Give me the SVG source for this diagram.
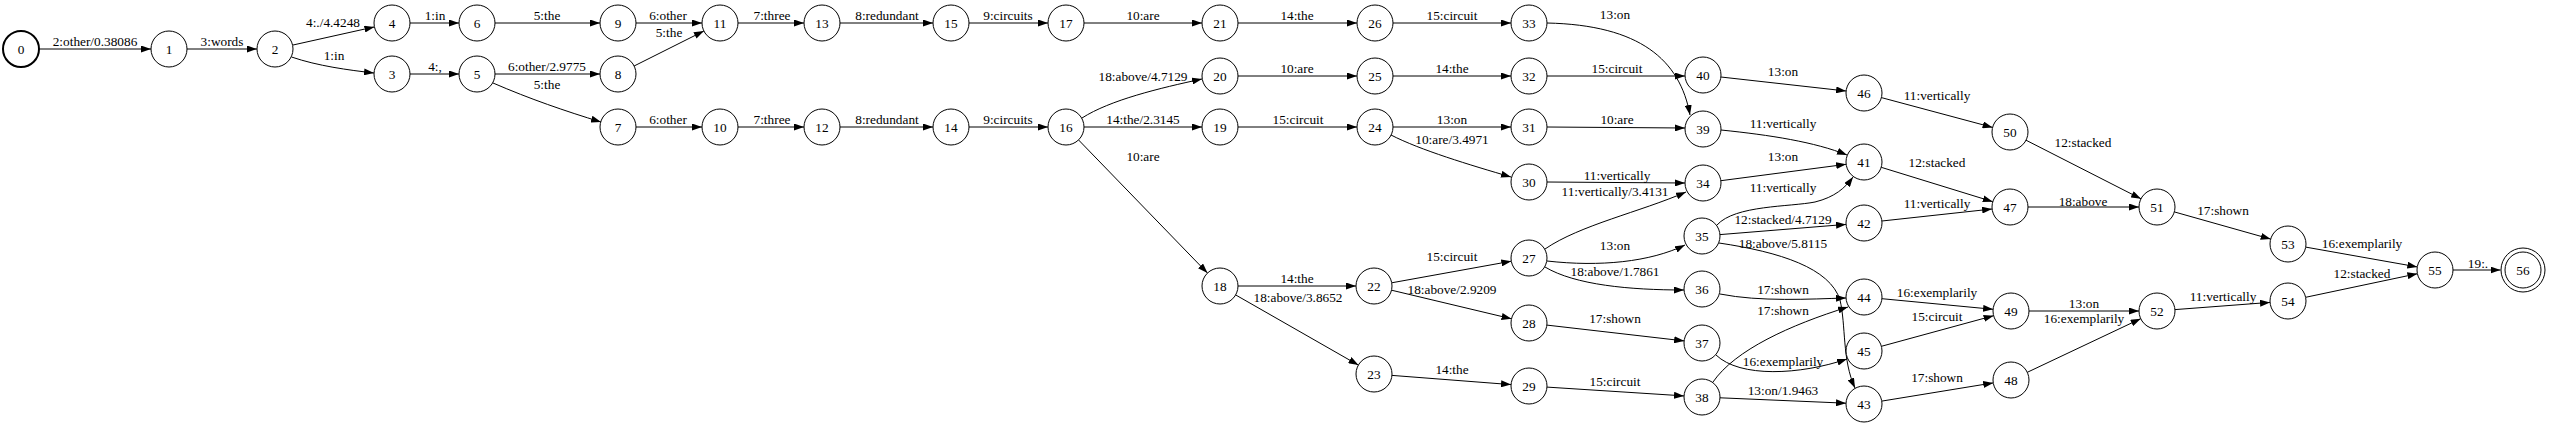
<svg xmlns="http://www.w3.org/2000/svg" width="2550" height="426" viewBox="0 0 2550 426">
<style>
text{font-family:"Liberation Serif","Times New Roman",serif;font-size:13.3px;text-anchor:middle;fill:#000}
.n circle{fill:#fff;stroke:#000;stroke-width:1}
.e path{fill:none;stroke:#000;stroke-width:1;marker-end:url(#a)}
</style>
<defs>
<marker id="a" markerWidth="10" markerHeight="7" refX="10" refY="3.5" orient="auto" markerUnits="userSpaceOnUse"><path d="M0,0 L10,3.5 L0,7 z" fill="#000"/></marker>
</defs>
<rect width="2550" height="426" fill="#fff"/>
<g id="edges" class="e">
<g><path d="M39,49 L151,49"/><text x="95" y="46">2:other/0.38086</text></g>
<g><path d="M187,49 L257,49"/><text x="222" y="46">3:words</text></g>
<g><path d="M292.6,45.1 L374.4,26.9"/><text x="333" y="27">4:./4.4248</text></g>
<g><path d="M291.5,57 C318,66 348,70 374,73"/><text x="334" y="60">1:in</text></g>
<g><path d="M410,23 L459,23"/><text x="435" y="20">1:in</text></g>
<g><path d="M410,74 L459,74"/><text x="435" y="71">4:,</text></g>
<g><path d="M495,23 L600,23"/><text x="547" y="20">5:the</text></g>
<g><path d="M495,74 L600,74"/><text x="547" y="71">6:other/2.9775</text></g>
<g><path d="M493,83 C530,99 565,111 601,122"/><text x="547" y="89">5:the</text></g>
<g><path d="M636,23 L702,23"/><text x="668" y="20">6:other</text></g>
<g><path d="M634.1,66 L703.9,31"/><text x="669" y="37">5:the</text></g>
<g><path d="M636,127 L702,127"/><text x="668" y="124">6:other</text></g>
<g><path d="M738,23 L804,23"/><text x="772" y="20">7:three</text></g>
<g><path d="M738,127 L804,127"/><text x="772" y="124">7:three</text></g>
<g><path d="M840,23 L933,23"/><text x="887" y="20">8:redundant</text></g>
<g><path d="M840,127 L933,127"/><text x="887" y="124">8:redundant</text></g>
<g><path d="M969,23 L1048,23"/><text x="1008" y="20">9:circuits</text></g>
<g><path d="M969,127 L1048,127"/><text x="1008" y="124">9:circuits</text></g>
<g><path d="M1084,23 L1202,23"/><text x="1143" y="20">10:are</text></g>
<g><path d="M1082,118 C1110,100 1160,88 1202,79"/><text x="1143" y="81">18:above/4.7129</text></g>
<g><path d="M1084,127 L1202,127"/><text x="1143" y="124">14:the/2.3145</text></g>
<g><path d="M1078.5,139.9 L1207.5,273.1"/><text x="1143" y="161">10:are</text></g>
<g><path d="M1238,23 L1357,23"/><text x="1297" y="20">14:the</text></g>
<g><path d="M1238,76 L1357,76"/><text x="1297" y="73">10:are</text></g>
<g><path d="M1238,127 L1357,127"/><text x="1298" y="124">15:circuit</text></g>
<g><path d="M1393,23 L1511,23"/><text x="1452" y="20">15:circuit</text></g>
<g><path d="M1393,76 L1511,76"/><text x="1452" y="73">14:the</text></g>
<g><path d="M1393,127 L1511,127"/><text x="1452" y="124">13:on</text></g>
<g><path d="M1391,135 C1420,150 1470,165 1511,177"/><text x="1452" y="144">10:are/3.4971</text></g>
<g><path d="M1547,23 C1640,25 1680,60 1690,115"/><text x="1615" y="19">13:on</text></g>
<g><path d="M1547,76 L1685,76"/><text x="1617" y="73">15:circuit</text></g>
<g><path d="M1547,127 L1685,128"/><text x="1617" y="124">10:are</text></g>
<g><path d="M1547,182 L1685,183"/><text x="1617" y="180">11:vertically</text></g>
<g><path d="M1545,249 C1580,225 1640,212 1686,192"/><text x="1615" y="196">11:vertically/3.4131</text></g>
<g><path d="M1720.9,77 L1846.1,91"/><text x="1783" y="76">13:on</text></g>
<g><path d="M1721,130 C1770,135 1815,142 1847,155"/><text x="1783" y="128">11:vertically</text></g>
<g><path d="M1720.9,180.7 L1846.1,164.3"/><text x="1783" y="161">13:on</text></g>
<g><path d="M1717,225 C1735,205 1790,207 1815,202 C1835,197 1845,188 1853,177"/><text x="1783" y="192">11:vertically</text></g>
<g><path d="M1720,234.6 L1846,224.4"/><text x="1783" y="224">12:stacked/4.7129</text></g>
<g><path d="M1719,243 C1780,252 1830,268 1840,300 C1846,325 1842,360 1855,388"/><text x="1783" y="248">18:above/5.8115</text></g>
<g><path d="M1720,294 C1760,302 1810,299 1846,298"/><text x="1783" y="294">17:shown</text></g>
<g><path d="M1713,382 C1735,350 1790,325 1848,307"/><text x="1783" y="315">17:shown</text></g>
<g><path d="M1716,355 C1740,378 1800,375 1847,359"/><text x="1783" y="366">16:exemplarily</text></g>
<g><path d="M1720,397.8 L1846,403.2"/><text x="1783" y="395">13:on/1.9463</text></g>
<g><path d="M1881.4,97.6 L1992.6,127.4"/><text x="1937" y="100">11:vertically</text></g>
<g><path d="M1881.2,167.3 L1992.8,201.7"/><text x="1937" y="167">12:stacked</text></g>
<g><path d="M1881.9,221 L1992.1,209"/><text x="1937" y="208">11:vertically</text></g>
<g><path d="M1881.9,298.7 L1993.1,309.3"/><text x="1937" y="297">16:exemplarily</text></g>
<g><path d="M1881.4,346.3 L1993.6,315.7"/><text x="1937" y="321">15:circuit</text></g>
<g><path d="M1881.8,401.1 L1993.2,382.9"/><text x="1937" y="382">17:shown</text></g>
<g><path d="M2026,140.2 L2141,198.8"/><text x="2083" y="147">12:stacked</text></g>
<g><path d="M2028,207 L2139,207"/><text x="2083" y="206">18:above</text></g>
<g><path d="M2029,311 L2139,311"/><text x="2084" y="308">13:on</text></g>
<g><path d="M2027.3,372.3 L2140.7,318.7"/><text x="2084" y="323">16:exemplarily</text></g>
<g><path d="M2174.3,211.9 L2270.7,239.1"/><text x="2223" y="215">17:shown</text></g>
<g><path d="M2175,309.6 L2270,302.4"/><text x="2223" y="301">11:vertically</text></g>
<g><path d="M2305.7,247.1 L2417.3,266.9"/><text x="2362" y="248">16:exemplarily</text></g>
<g><path d="M2305.6,297.3 L2417.4,273.7"/><text x="2362" y="278">12:stacked</text></g>
<g><path d="M2453,270 L2500.5,270"/><text x="2478" y="268">19:.</text></g>
<g><path d="M1238,286 L1356,286"/><text x="1297" y="283">14:the</text></g>
<g><path d="M1235.6,294.9 L1358.4,365.1"/><text x="1298" y="302">18:above/3.8652</text></g>
<g><path d="M1391.7,282.8 L1511.3,261.2"/><text x="1452" y="261">15:circuit</text></g>
<g><path d="M1391.5,290.2 L1511.5,318.8"/><text x="1452" y="294">18:above/2.9209</text></g>
<g><path d="M1392,375.4 L1511,384.6"/><text x="1452" y="374">14:the</text></g>
<g><path d="M1547,261 C1600,267 1650,262 1685,245"/><text x="1615" y="250">13:on</text></g>
<g><path d="M1545,267 C1575,285 1630,290 1684,290"/><text x="1615" y="276">18:above/1.7861</text></g>
<g><path d="M1546.9,325.1 L1684.1,340.9"/><text x="1615" y="323">17:shown</text></g>
<g><path d="M1547,387.1 L1684,395.9"/><text x="1615" y="386">15:circuit</text></g>
</g>
<g id="nodes" class="n">
<g id="n0"><circle cx="21" cy="49" r="18" style="stroke-width:2"/><text x="21" y="53.5">0</text></g>
<g id="n1"><circle cx="169" cy="49" r="18"/><text x="169" y="53.5">1</text></g>
<g id="n2"><circle cx="275" cy="49" r="18"/><text x="275" y="53.5">2</text></g>
<g id="n3"><circle cx="392" cy="74" r="18"/><text x="392" y="78.5">3</text></g>
<g id="n4"><circle cx="392" cy="23" r="18"/><text x="392" y="27.5">4</text></g>
<g id="n5"><circle cx="477" cy="74" r="18"/><text x="477" y="78.5">5</text></g>
<g id="n6"><circle cx="477" cy="23" r="18"/><text x="477" y="27.5">6</text></g>
<g id="n7"><circle cx="618" cy="127" r="18"/><text x="618" y="131.5">7</text></g>
<g id="n8"><circle cx="618" cy="74" r="18"/><text x="618" y="78.5">8</text></g>
<g id="n9"><circle cx="618" cy="23" r="18"/><text x="618" y="27.5">9</text></g>
<g id="n10"><circle cx="720" cy="127" r="18"/><text x="720" y="131.5">10</text></g>
<g id="n11"><circle cx="720" cy="23" r="18"/><text x="720" y="27.5">11</text></g>
<g id="n12"><circle cx="822" cy="127" r="18"/><text x="822" y="131.5">12</text></g>
<g id="n13"><circle cx="822" cy="23" r="18"/><text x="822" y="27.5">13</text></g>
<g id="n14"><circle cx="951" cy="127" r="18"/><text x="951" y="131.5">14</text></g>
<g id="n15"><circle cx="951" cy="23" r="18"/><text x="951" y="27.5">15</text></g>
<g id="n16"><circle cx="1066" cy="127" r="18"/><text x="1066" y="131.5">16</text></g>
<g id="n17"><circle cx="1066" cy="23" r="18"/><text x="1066" y="27.5">17</text></g>
<g id="n18"><circle cx="1220" cy="286" r="18"/><text x="1220" y="290.5">18</text></g>
<g id="n19"><circle cx="1220" cy="127" r="18"/><text x="1220" y="131.5">19</text></g>
<g id="n20"><circle cx="1220" cy="76" r="18"/><text x="1220" y="80.5">20</text></g>
<g id="n21"><circle cx="1220" cy="23" r="18"/><text x="1220" y="27.5">21</text></g>
<g id="n22"><circle cx="1374" cy="286" r="18"/><text x="1374" y="290.5">22</text></g>
<g id="n23"><circle cx="1374" cy="374" r="18"/><text x="1374" y="378.5">23</text></g>
<g id="n24"><circle cx="1375" cy="127" r="18"/><text x="1375" y="131.5">24</text></g>
<g id="n25"><circle cx="1375" cy="76" r="18"/><text x="1375" y="80.5">25</text></g>
<g id="n26"><circle cx="1375" cy="23" r="18"/><text x="1375" y="27.5">26</text></g>
<g id="n27"><circle cx="1529" cy="258" r="18"/><text x="1529" y="262.5">27</text></g>
<g id="n28"><circle cx="1529" cy="323" r="18"/><text x="1529" y="327.5">28</text></g>
<g id="n29"><circle cx="1529" cy="386" r="18"/><text x="1529" y="390.5">29</text></g>
<g id="n30"><circle cx="1529" cy="182" r="18"/><text x="1529" y="186.5">30</text></g>
<g id="n31"><circle cx="1529" cy="127" r="18"/><text x="1529" y="131.5">31</text></g>
<g id="n32"><circle cx="1529" cy="76" r="18"/><text x="1529" y="80.5">32</text></g>
<g id="n33"><circle cx="1529" cy="23" r="18"/><text x="1529" y="27.5">33</text></g>
<g id="n34"><circle cx="1703" cy="183" r="18"/><text x="1703" y="187.5">34</text></g>
<g id="n35"><circle cx="1702" cy="236" r="18"/><text x="1702" y="240.5">35</text></g>
<g id="n36"><circle cx="1702" cy="289" r="18"/><text x="1702" y="293.5">36</text></g>
<g id="n37"><circle cx="1702" cy="343" r="18"/><text x="1702" y="347.5">37</text></g>
<g id="n38"><circle cx="1702" cy="397" r="18"/><text x="1702" y="401.5">38</text></g>
<g id="n39"><circle cx="1703" cy="129" r="18"/><text x="1703" y="133.5">39</text></g>
<g id="n40"><circle cx="1703" cy="75" r="18"/><text x="1703" y="79.5">40</text></g>
<g id="n41"><circle cx="1864" cy="162" r="18"/><text x="1864" y="166.5">41</text></g>
<g id="n42"><circle cx="1864" cy="223" r="18"/><text x="1864" y="227.5">42</text></g>
<g id="n43"><circle cx="1864" cy="404" r="18"/><text x="1864" y="408.5">43</text></g>
<g id="n44"><circle cx="1864" cy="297" r="18"/><text x="1864" y="301.5">44</text></g>
<g id="n45"><circle cx="1864" cy="351" r="18"/><text x="1864" y="355.5">45</text></g>
<g id="n46"><circle cx="1864" cy="93" r="18"/><text x="1864" y="97.5">46</text></g>
<g id="n47"><circle cx="2010" cy="207" r="18"/><text x="2010" y="211.5">47</text></g>
<g id="n48"><circle cx="2011" cy="380" r="18"/><text x="2011" y="384.5">48</text></g>
<g id="n49"><circle cx="2011" cy="311" r="18"/><text x="2011" y="315.5">49</text></g>
<g id="n50"><circle cx="2010" cy="132" r="18"/><text x="2010" y="136.5">50</text></g>
<g id="n51"><circle cx="2157" cy="207" r="18"/><text x="2157" y="211.5">51</text></g>
<g id="n52"><circle cx="2157" cy="311" r="18"/><text x="2157" y="315.5">52</text></g>
<g id="n53"><circle cx="2288" cy="244" r="18"/><text x="2288" y="248.5">53</text></g>
<g id="n54"><circle cx="2288" cy="301" r="18"/><text x="2288" y="305.5">54</text></g>
<g id="n55"><circle cx="2435" cy="270" r="18"/><text x="2435" y="274.5">55</text></g>
<g id="n56"><circle cx="2523" cy="270" r="22"/><circle cx="2523" cy="270" r="18"/><text x="2523" y="274.5">56</text></g>
</g>
</svg>
